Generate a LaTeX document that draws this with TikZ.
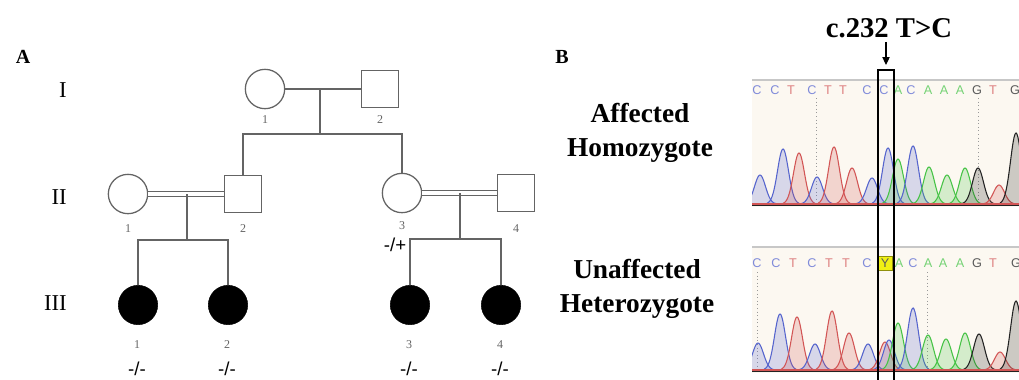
\documentclass[tikz,border=0pt]{standalone}
\usepackage{fontspec}
\setmainfont{Liberation Serif}
\newfontfamily\basefont{Liberation Sans}
\usepackage{tikz}
\usetikzlibrary{arrows.meta}

\definecolor{pedgrey}{RGB}{100,100,100}
\definecolor{baseC}{RGB}{85,100,205}
\definecolor{baseT}{RGB}{210,85,85}
\definecolor{baseA}{RGB}{70,195,70}
\definecolor{baseG}{RGB}{35,35,35}
\definecolor{panelbg}{RGB}{252,248,241}
\definecolor{hlyellow}{RGB}{240,240,20}

\tikzset{
  female/.style={circle, draw=pedgrey, line width=0.95pt, minimum size=29.5pt, inner sep=0pt},
  male/.style={rectangle, draw=pedgrey, line width=0.95pt, minimum size=27.5pt, inner sep=0pt},
  affected/.style={circle, fill=black, draw=black, minimum width=28.5pt, minimum height=29.5pt, inner sep=0pt},
  pedline/.style={draw=pedgrey, line width=0.95pt},
  consang/.style={draw=pedgrey, line width=0.85pt, double, double distance=2.8pt},
  idnum/.style={text=pedgrey, font=\fontsize{9}{9}\selectfont, inner sep=0pt},
  genlabel/.style={anchor=east, inner sep=0pt, font=\fontsize{17}{17}\selectfont},
  panellabel/.style={inner sep=0pt, font=\fontsize{15}{15}\selectfont\bfseries},
  genotype/.style={inner sep=0pt, font=\basefont\fontsize{14}{14}\selectfont},
  sidelabel/.style={inner sep=0pt, align=center, font=\fontsize{20.5}{25.5}\selectfont\bfseries},
  mutlabel/.style={inner sep=0pt, font=\fontsize{21.5}{21.5}\selectfont\bfseries},
  seqletter/.style={inner sep=0pt, font=\basefont\fontsize{9.5}{9.5}\selectfont},
  snparrow/.style={-{Triangle[length=6pt,width=5.5pt]}, line width=0.8pt}
}

% one peak of the trace: x, baseline, height, colour
\newcommand{\tracepeak}[4]{%
  \fill[#4, fill opacity=0.22] plot[domain=-16:16, samples=33] ({#1+\x},{#2-#3*exp(-(\x*\x)/60)}) -- cycle;
  \draw[#4, line width=0.8pt] plot[domain=-16:16, samples=33] ({#1+\x},{#2-#3*exp(-(\x*\x)/60)});
}

\begin{document}
\begin{tikzpicture}[x=0.75pt,y=0.75pt,yscale=-1]
  \useasboundingbox (0,0) rectangle (1019,379);

  %Panel labels
  \node[panellabel] (lblA) at (23,57) {A};
  \node[panellabel] (lblB) at (562,57) {B};

  %Generations
  \node[genlabel] (genI) at (67,90) {I};
  \node[genlabel] (genII) at (67,197) {II};
  \node[genlabel] (genIII) at (67,303) {III};

  %Generation I
  \node[female] (I1) at (265,89) {};
  \node[male] (I2) at (380,89) {};
  \node[idnum] (nI1) at (265,120) {1};
  \node[idnum] (nI2) at (380,120) {2};
  \coordinate (mI) at (320,89);
  \coordinate (sI) at (320,134);
  \draw[pedline] (I1) -- (I2);
  \draw[pedline] (mI) -- (sI);

  %Generation II
  \node[female] (II1) at (128,194) {};
  \node[male] (II2) at (243,194) {};
  \node[female] (II3) at (402,193) {};
  \node[male] (II4) at (516,193) {};
  \node[idnum] (nII1) at (128,229) {1};
  \node[idnum] (nII2) at (243,229) {2};
  \node[idnum] (nII3) at (402,226) {3};
  \node[idnum] (nII4) at (516,229) {4};
  \node[genotype] (gII3) at (395,245) {-/+};
  \draw[pedline] (II2.north) |- (sI) -| (II3.north);
  \draw[consang] (II1) -- (II2);
  \draw[consang] (II3) -- (II4);
  \coordinate (mII1) at (187,194);
  \coordinate (sII1) at (187,240);
  \coordinate (mII3) at (460,193);
  \coordinate (sII3) at (460,239);

  %Generation III
  \node[affected] (III1) at (138,305) {};
  \node[affected] (III2) at (228,305) {};
  \node[affected] (III3) at (410,305) {};
  \node[affected] (III4) at (501,305) {};
  \foreach \pid/\px/\pn in {III1/137/1, III2/227/2, III3/409/3, III4/500/4}{
    \node[idnum] (n\pid) at (\px,345) {\pn};
    \node[genotype] (g\pid) at (\px,369) {-/-};
  }
  \draw[pedline] (mII1) -- (sII1);
  \draw[pedline] (mII3) -- (sII3);
  \draw[pedline] (III1.north) |- (sII1) -| (III2.north);
  \draw[pedline] (III3.north) |- (sII3) -| (III4.north);

  %Sample labels
  \node[sidelabel] (homo) at (640,133) {Affected\\Homozygote};
  \node[sidelabel] (hetero) at (637,289) {Unaffected\\Heterozygote};

  %Mutation label and arrow
  \node[mutlabel] (mut) at (889,28) {c.232 T>C};
  \coordinate (arrtip) at (886,65);
  \draw[snparrow, shorten <=3pt] (mut.south -| arrtip) -- (arrtip);

  \begin{scope}
    \clip (752,0) rectangle (1019,379);

    %Trace panel, homozygote
    \fill[panelbg] (752,80) rectangle (1019,207);
    \draw[black!22, line width=0.8pt] (752,80) -- (1019,80);
    \draw[black!40, dotted, line width=0.7pt] (816,98) -- (816,200);
    \draw[black!40, dotted, line width=0.7pt] (978,98) -- (978,200);
    \foreach \px/\ph/\pc in {760/29/baseC, 783/55/baseC, 799/51/baseT, 817/27/baseC,
        834/57/baseT, 852/36/baseT, 872/26/baseC, 888/56/baseC, 898/45/baseA,
        913/58/baseC, 929/37/baseA, 947/29/baseA, 965/36/baseA, 978/36/baseG,
        999/19/baseT, 1016/71/baseG}{
      \tracepeak{\px}{204}{\ph}{\pc}
    }
    \draw[baseT, line width=0.9pt] (752,204) -- (1019,204);
    \draw[baseG, line width=0.5pt] (752,205.5) -- (1019,205.5);
    \foreach \lx/\lb/\lc [count=\li] in {757/C/baseC, 775/C/baseC, 791/T/baseT, 812/C/baseC,
        828/T/baseT, 843/T/baseT, 867/C/baseC, 884/C/baseC, 898/A/baseA, 911/C/baseC,
        928/A/baseA, 944/A/baseA, 960/A/baseA, 977/G/baseG, 993/T/baseT, 1015/G/baseG}{
      \node[seqletter, text=\lc!75] (ht\li) at (\lx,90) {\lb};
    }

    %Trace panel, heterozygote
    \fill[panelbg] (752,247) rectangle (1019,373);
    \draw[black!22, line width=0.8pt] (752,247) -- (1019,247);
    \draw[black!40, dotted, line width=0.7pt] (757,272) -- (757,366);
    \draw[black!40, dotted, line width=0.7pt] (927,272) -- (927,366);
    \foreach \px/\ph/\pc in {758/27/baseC, 780/56/baseC, 797/53/baseT, 815/26/baseC,
        832/59/baseT, 849/37/baseT, 868/26/baseC, 885/28/baseT, 889/30/baseC,
        898/47/baseA, 913/62/baseC, 928/35/baseA, 946/31/baseA, 965/37/baseA,
        979/36/baseG, 1000/18/baseT, 1016/69/baseG}{
      \tracepeak{\px}{370}{\ph}{\pc}
    }
    \draw[baseT, line width=0.9pt] (752,370) -- (1019,370);
    \draw[baseG, line width=0.5pt] (752,371.5) -- (1019,371.5);
    \fill[hlyellow, draw=black!40!hlyellow, line width=0.6pt] (878,256) rectangle (892,270);
    \foreach \lx/\lb/\lc [count=\li] in {757/C/baseC, 776/C/baseC, 793/T/baseT, 812/C/baseC,
        829/T/baseT, 846/T/baseT, 867/C/baseC, 885/Y/baseG, 899/A/baseA, 913/C/baseC,
        928/A/baseA, 943/A/baseA, 960/A/baseA, 977/G/baseG, 993/T/baseT, 1016/G/baseG}{
      \node[seqletter, text=\lc!75] (et\li) at (\lx,263) {\lb};
    }

    %Highlight box of the variant position
    \draw[black, line width=1pt] (878,70) rectangle (894,390);
  \end{scope}
\end{tikzpicture}
\end{document}
